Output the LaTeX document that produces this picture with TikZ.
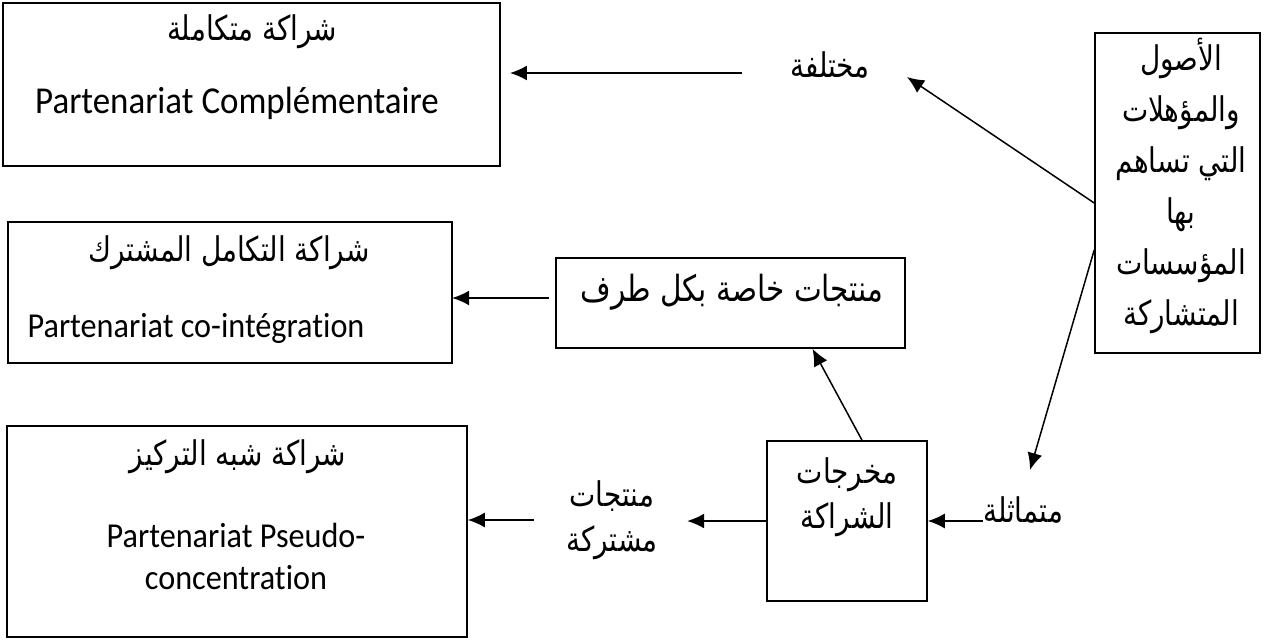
\documentclass[tikz,border=0pt]{standalone}
\usepackage{fontspec}
\setmainfont[FakeStretch=0.92, Ligatures=NoCommon]{Carlito}
\newfontfamily\arabicfont[Script=Arabic, FakeStretch=0.82]{DejaVu Sans}
\TeXXeTstate=1
\usetikzlibrary{arrows.meta, positioning}
\newcommand{\artext}[1]{\beginR #1\endR}
\tikzset{
  partbox/.style={
    rectangle,
    draw=black,
    line width=1.6pt,
    inner sep=0pt
  },
  arlabel/.style={
    font=\fontsize{34}{51}\selectfont\arabicfont,
    align=center,
    inner sep=0pt
  },
  frlabel/.style={
    font=\fontsize{35}{42}\selectfont,
    align=center,
    inner sep=0pt
  },
  arrow/.style={
    line width=1.5pt,
    -{Latex[length=17pt, width=15pt]}
  }
}
\begin{document}
\begin{tikzpicture}[x=1pt, y=-1pt]
  \useasboundingbox (0,0) rectangle (1270,640);

  % PARTNERSHIP TYPES
  \node (A) [partbox, minimum width=497pt, minimum height=163pt] at (251.5,84.5) {};
  \node (A_ar) [arlabel] at (252,32) {\artext{شراكة متكاملة}};
  \node (A_fr) [frlabel, font=\fontsize{38}{43}\selectfont] at (237,103) {Partenariat Complémentaire};

  \node (B) [partbox, minimum width=444pt, minimum height=141pt] at (230,292.5) {};
  \node (B_ar) [arlabel] at (229,253) {\artext{شراكة التكامل المشترك}};
  \node (B_fr) [frlabel] at (196,328) {Partenariat co-intégration};

  \node (D) [partbox, minimum width=460pt, minimum height=211pt] at (237,531.5) {};
  \node (D_ar) [arlabel] at (238,457) {\artext{شراكة شبه التركيز}};
  \node (D_fr) [frlabel] at (236,556) {Partenariat Pseudo-\\concentration};

  % ASSETS AND OUTPUTS
  \node (R) [partbox, minimum width=165pt, minimum height=320pt] at (1177.5,193) {};
  \node (R_ar) [arlabel] at (1181,186) {\artext{الأصول}\\\artext{والمؤهلات}\\\artext{التي تساهم}\\\artext{بها}\\\artext{المؤسسات}\\\artext{المتشاركة}};

  \node (C) [partbox, minimum width=349pt, minimum height=90pt] at (730.5,303) {};
  \node (C_ar) [arlabel, font=\fontsize{36}{51}\selectfont\arabicfont] at (732,292) {\artext{منتجات خاصة بكل طرف}};

  \node (E) [partbox, minimum width=160pt, minimum height=160pt] at (847,521) {};
  \node (E_ar) [arlabel, font=\fontsize{34}{45}\selectfont\arabicfont] at (847,497) {\artext{مخرجات}\\\artext{الشراكة}};

  \node (diff) [arlabel] at (830,65) {\artext{مختلفة}};
  \node (sim) [arlabel] at (1023,510) {\artext{متماثلة}};
  \node (shared) [arlabel, font=\fontsize{34}{45}\selectfont\arabicfont] at (612,520) {\artext{منتجات}\\\artext{مشتركة}};

  % ARROW CONNECTIONS
  \draw[arrow] ([shift={(-48,8)}]diff.west) -- ++(-232,0);
  \draw[arrow] ([yshift=-10pt]R.west) -- ([shift={(37,12)}]diff.east);
  \draw[arrow] ([yshift=-57pt]R.west) -- ([shift={(7,-40)}]sim.center);
  \draw[arrow] (sim.west |- E) -- (E.east);
  \draw[arrow] ([xshift=15pt]E.north) -- ([xshift=82pt]C.south);
  \draw[arrow] ([shift={(-6,-5)}]C.west) -- ++(-97,0);
  \draw[arrow] (E.west) -- ++(-79,0);
  \draw[arrow] ([xshift=-32pt]shared.west) -- (D.east |- shared.west);

\end{tikzpicture}
\end{document}
